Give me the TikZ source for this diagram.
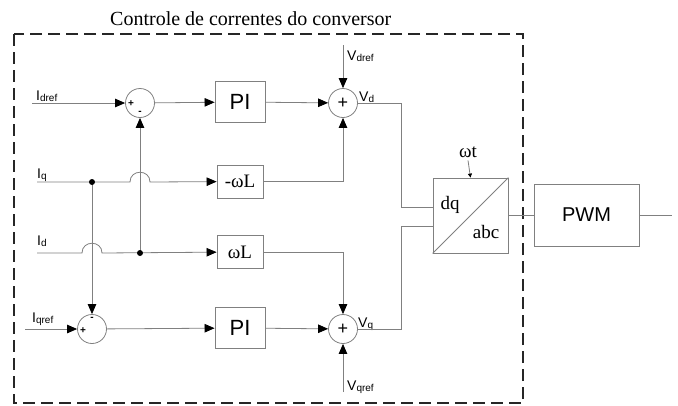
\documentclass[tikz,border=0pt]{standalone}
\usepackage{fontspec}
\setmainfont{Liberation Serif}
\setsansfont{Liberation Sans}
\usetikzlibrary{positioning, arrows.meta, calc}

\definecolor{wiregray}{RGB}{128,128,128}
\newcommand{\signame}[2]{\sffamily\fontsize{14}{14}\selectfont #1\raisebox{-1pt}{\fontsize{10}{10}\selectfont #2}}

\begin{document}
\begin{tikzpicture}[
		x=1pt, y=-1pt,
		% --- Styles ---
		sumnode/.style={
			circle, draw=wiregray, line width=0.8pt, minimum size=29pt, inner sep=0pt,
			font=\sffamily\fontsize{18}{18}\selectfont
		},
		piblock/.style={
			rectangle, draw=wiregray, line width=0.8pt, minimum width=50pt, minimum height=41pt,
			inner sep=0pt, font=\sffamily\fontsize{22}{22}\selectfont
		},
		gainblock/.style={
			rectangle, draw=wiregray, line width=0.8pt, minimum width=46pt, minimum height=33pt,
			inner sep=0pt, font=\fontsize{19}{19}\selectfont
		},
		line/.style={
			draw=wiregray, line width=0.8pt
		},
		arr/.style={
			-{Triangle[length=10pt, width=8.5pt, color=black]}
		},
		signlabel/.style={
			font=\sffamily\fontsize{10}{10}\selectfont\bfseries, inner sep=0pt
		},
		serlabel/.style={
			font=\fontsize{19}{19}\selectfont, inner sep=0pt
		}
		]
		
		\useasboundingbox (0,0) rectangle (678,405);
		
		% --- 1. Frame and title ---
		\draw [dash pattern=on 12pt off 6pt, line width=1.1pt, black!85] (14,34) rectangle (523,403);
		\node [anchor=base west, font=\fontsize{20}{20}\selectfont, inner sep=0pt] (title) at (110,25)
		{Controle de correntes do conversor};
		
		% --- 2. Summing junctions ---
		\node [sumnode] (sumd) at (140,103) {};
		\node [sumnode] (sumq) at (92,329) {};
		\node [sumnode] (sumvd) at (343,103) {+};
		\node [sumnode] (sumvq) at (343,329) {+};
		
		% signs of the error junctions
		\node [signlabel] (sumdplus) at (131,104) {+};
		\node [signlabel] (sumdminus) at (140,113) {-};
		\node [signlabel] (sumqminus) at (92,319) {-};
		\node [signlabel] (sumqplus) at (83,331) {+};
		
		% --- 3. Blocks ---
		\node [piblock] (pid) at (240,102) {PI};
		\node [piblock] (piq) at (240,328) {PI};
		\node [gainblock] (wlq) at (240,181.5) {-ωL};
		\node [gainblock] (wld) at (240,252) {ωL};
		
		% dq -> abc transform
		\node [draw=wiregray, line width=0.8pt, minimum size=75pt, inner sep=0pt] (dqabc) at (470.5,215.5) {};
		\draw [line] (dqabc.south west) -- (dqabc.north east);
		\node [serlabel] (dqtxt) at (450,205) {dq};
		\node [serlabel] (abctxt) at (486,232) {abc};
		\node [serlabel, anchor=base] (wt) at (468,157) {ωt};
		
		\node [draw=wiregray, line width=0.8pt, minimum width=105pt, minimum height=62pt,
		font=\sffamily\fontsize{20}{20}\selectfont] (pwm) at (586.5,215) {PWM};
		
		% --- 4. Inputs (free ends) ---
		\coordinate (idref) at (32,103);
		\coordinate (iqin) at (37,182);
		\coordinate (idin) at (37,253);
		\coordinate (iqref) at (25,329);
		\coordinate (vdref) at (343,45);
		\coordinate (vqref) at (343,392);
		\coordinate (pwmout) at (672,215);
		
		% branch points
		\coordinate (iqdot) at (92,182);
		\coordinate (iddot) at (140,253);
		
		% --- 5. Signal labels ---
		\node [anchor=base west, inner sep=0pt] (idreflabel) at (36,100) {\signame{I}{dref}};
		\node [anchor=base west, inner sep=0pt] (iqlabel) at (37,178) {\signame{I}{q}};
		\node [anchor=base west, inner sep=0pt] (idlabel) at (37,245) {\signame{I}{d}};
		\node [anchor=base west, inner sep=0pt] (iqreflabel) at (32,322) {\signame{I}{qref}};
		\node [anchor=base west, inner sep=0pt] (vdreflabel) at (347,60) {\signame{V}{dref}};
		\node [anchor=base west, inner sep=0pt] (vqreflabel) at (347,390) {\signame{V}{qref}};
		\node [anchor=base west, inner sep=0pt] (vdlabel) at (359,101) {\signame{V}{d}};
		\node [anchor=base west, inner sep=0pt] (vqlabel) at (358,327) {\signame{V}{q}};
		
		% --- 6. Connections ---
		% d axis
		\draw [line, arr] (idref) -- (sumd);
		\draw [line, arr] (sumd) -- (pid);
		\draw [line, arr] (pid) -- (sumvd);
		\draw [line, arr] (vdref) -- (sumvd);
		
		% q axis
		\draw [line, arr] (iqref) -- (sumq);
		\draw [line, arr] (sumq) -- (piq);
		\draw [line, arr] (piq) -- (sumvq);
		\draw [line, arr] (vqref) -- (sumvq);
		
		% measured currents, with hops over the crossing wires
		\draw [line, arr] (iqin) -- ($(iddot|-iqin)+(-10,0)$)
		.. controls +(0,-13) and +(0,-13) .. ($(iddot|-iqin)+(10,0)$) -- (wlq);
		\draw [line, arr] (idin) -- ($(iqdot|-idin)+(-10,0)$)
		.. controls +(0,-13) and +(0,-13) .. ($(iqdot|-idin)+(10,0)$) -- (wld);
		\draw [line, arr] (iqdot) -- (sumq);
		\draw [line, arr] (iddot) -- (sumd);
		\fill (iqdot) circle (3pt);
		\fill (iddot) circle (3pt);
		
		% decoupling terms
		\draw [line, arr] (wlq) -| (sumvd);
		\draw [line, arr] (wld) -| (sumvq);
		
		% voltages to the transform
		\draw [line] (sumvd.east) -- ++(43,0) |- ($(dqabc.west)+(0,-8.5)$);
		\draw [line] (sumvq.east) -- ++(43,0) |- ($(dqabc.west)+(0,10.5)$);
		\draw [line, -{Triangle[length=4pt, width=4pt, color=black]}] (wt.south) ++(0,3) -- (dqabc.north);
		
		% --- 7. Output ---
		\draw [line] (dqabc.east) -- (dqabc.east -| pwm.west);
		\draw [line] (pwm.east) -- (pwmout);
		
\end{tikzpicture}
\end{document}
